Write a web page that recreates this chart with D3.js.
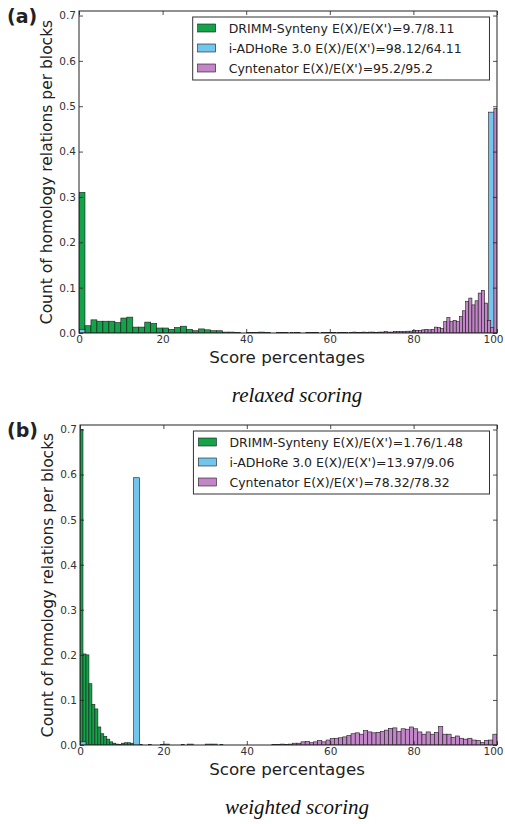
<!DOCTYPE html>
<html>
<head>
<meta charset="utf-8">
<script src="https://cdn.jsdelivr.net/npm/d3@7"></script>
<style>
  html, body { margin: 0; padding: 0; background: #fff; }
  svg { display: block; }
  text { font-family: "DejaVu Sans", sans-serif; }
</style>
</head>
<body>
<svg id="chart" width="505" height="824"></svg>
<script>
// ---------------- data ----------------
const seriesNames = ["DRIMM-Synteny", "i-ADHoRe 3.0", "Cyntenator"];
const xTicks = [0, 20, 40, 60, 80, 100];
const yTicks = [0.0, 0.1, 0.2, 0.3, 0.4, 0.5, 0.6, 0.7];
const yMax = 0.71;
const xLabel = "Score percentages";
const yLabel = "Count of homology relations per blocks";
const panelTags = ["(a)", "(b)"];
const panelCaptions = ["relaxed scoring", "weighted scoring"];
const relaxedLegend = ["DRIMM-Synteny E(X)/E(X')=9.7/8.11", "i-ADHoRe 3.0 E(X)/E(X')=98.12/64.11", "Cyntenator E(X)/E(X')=95.2/95.2"];
const weightedLegend = ["DRIMM-Synteny E(X)/E(X')=1.76/1.48", "i-ADHoRe 3.0 E(X)/E(X')=13.97/9.06", "Cyntenator E(X)/E(X')=78.32/78.32"];

// histogram bins: first bin edge, bin width (score units), bar heights
const relaxedDrimmStart = 0, relaxedDrimmWidth = 1.43;
const relaxedDrimm = [
  0.31, 0.016, 0.029, 0.026, 0.026, 0.026, 0.023, 0.033, 0.035, 0.013,
  0.013, 0.024, 0.021, 0.011, 0.011, 0.008, 0.012, 0.015, 0.008, 0.005,
  0.009, 0.007, 0.005, 0.005, 0.002, 0.002, 0.001, 0, 0.001, 0.001,
  0.002, 0.001, 0, 0.001, 0.001, 0, 0.001, 0, 0.001, 0.001,
  0, 0.001, 0.001, 0, 0.001, 0, 0.001, 0.001, 0, 0.001,
  0.001, 0, 0.001, 0.001, 0, 0.001, 0, 0.001, 0.002, 0.001,
  0.001, 0, 0.001, 0.001, 0, 0, 0.001, 0, 0, 0
];
const relaxedAdhoreStart = 0, relaxedAdhoreWidth = 1.4;
const relaxedAdhore = [
  0.008, 0, 0, 0, 0, 0, 0, 0, 0, 0,
  0, 0, 0, 0, 0, 0, 0, 0, 0, 0,
  0, 0, 0, 0, 0, 0, 0, 0, 0, 0,
  0, 0, 0, 0, 0, 0, 0, 0, 0, 0,
  0, 0, 0, 0, 0, 0, 0, 0, 0, 0,
  0, 0, 0, 0, 0, 0, 0, 0, 0, 0,
  0, 0, 0, 0, 0, 0, 0, 0, 0, 0,
  0.487
];
const relaxedCyntStart = 47.5, relaxedCyntWidth = 0.75;
const relaxedCynt = [
  0, 0.001, 0, 0, 0.001, 0, 0.001, 0, 0, 0.001,
  0, 0.001, 0.001, 0, 0.001, 0, 0.001, 0.001, 0, 0.001,
  0.001, 0.001, 0, 0.001, 0.002, 0.001, 0.001, 0.002, 0.001, 0.002,
  0.002, 0.001, 0.002, 0.002, 0.003, 0.002, 0.002, 0.003, 0.003, 0.003,
  0.003, 0.004, 0.004, 0.006, 0.006, 0.006, 0.007, 0.008, 0.007, 0.008,
  0.013, 0.012, 0.010, 0.025, 0.034, 0.025, 0.028, 0.025, 0.036, 0.049,
  0.070, 0.077, 0.062, 0.071, 0.088, 0.094, 0.066, 0.028, 0.012, 0.495
];

const weightedDrimmStart = 0, weightedDrimmWidth = 0.714;
const weightedDrimm = [
  0.70, 0.202, 0.200, 0.136, 0.090, 0.080, 0.040, 0.025, 0.019, 0.013,
  0.007, 0.004, 0.002, 0.001, 0.004, 0.005, 0.005, 0.004, 0, 0,
  0.001, 0, 0, 0.001, 0, 0, 0, 0.001, 0, 0,
  0, 0, 0, 0, 0.001, 0, 0, 0, 0, 0,
  0, 0, 0, 0, 0, 0, 0, 0.001, 0, 0
];
const weightedAdhoreStart = 0, weightedAdhoreWidth = 1.43;
const weightedAdhore = [
  0.007, 0, 0, 0, 0, 0, 0, 0, 0, 0.593,
  0, 0, 0, 0, 0.002, 0, 0, 0, 0.002, 0,
  0, 0.002, 0.002, 0, 0, 0, 0, 0, 0, 0
];
const weightedCyntStart = 30, weightedCyntWidth = 1.0;
const weightedCynt = [
  0, 0, 0, 0, 0, 0, 0, 0, 0, 0,
  0, 0, 0, 0, 0, 0, 0.001, 0.001, 0.002, 0.001,
  0.002, 0.004, 0.004, 0.007, 0.008, 0.005, 0.007, 0.010, 0.007, 0.011,
  0.014, 0.015, 0.016, 0.018, 0.021, 0.025, 0.027, 0.024, 0.032, 0.029,
  0.027, 0.028, 0.030, 0.033, 0.037, 0.038, 0.030, 0.036, 0.035, 0.040,
  0.036, 0.029, 0.024, 0.029, 0.024, 0.028, 0.041, 0.024, 0.024, 0.017,
  0.020, 0.015, 0.013, 0.015, 0.011, 0.010, 0.006, 0.010, 0.011, 0.024
];

const seriesColors = ["#14a34b", "#72c5ec", "#c285c8"];

// ---------------- drawing ----------------
const svg = d3.select("#chart");

function toBins(heights, start, width) {
  return heights.map((h, i) => ({ x0: start + i * width, x1: start + (i + 1) * width, h }));
}

function drawPanel(opts) {
  const { left, right, top, bottom, series, legend, tag, caption, idx } = opts;
  const x = d3.scaleLinear().domain([0, 100]).range([left, right]);
  const y = d3.scaleLinear().domain([0, yMax]).range([bottom, top]);
  const g = svg.append("g");

  const clipId = "clip" + idx;
  svg.append("defs").append("clipPath").attr("id", clipId)
    .append("rect").attr("x", left).attr("y", top)
    .attr("width", right - left).attr("height", bottom - top);

  const bars = g.append("g").attr("clip-path", `url(#${clipId})`);
  series.forEach((s, si) => {
    bars.append("g").selectAll("rect")
      .data(toBins(s.heights, s.start, s.width).filter(d => d.h > 0))
      .join("rect")
      .attr("x", d => x(d.x0))
      .attr("y", d => y(d.h))
      .attr("width", d => x(d.x1) - x(d.x0))
      .attr("height", d => y(0) - y(d.h))
      .attr("fill", seriesColors[si])
      .attr("stroke", "#1a1a1a")
      .attr("stroke-width", 0.6);
  });

  // axes (matplotlib classic: inward ticks on all sides)
  const tickLen = 4;
  const axB = d3.axisBottom(x).tickValues(xTicks).tickFormat(d3.format("d")).tickSizeInner(-tickLen).tickSizeOuter(0).tickPadding(3);
  const axT = d3.axisTop(x).tickValues(xTicks).tickFormat("").tickSizeInner(-tickLen).tickSizeOuter(0);
  const axL = d3.axisLeft(y).tickValues(yTicks).tickFormat(d3.format(".1f")).tickSizeInner(-tickLen).tickSizeOuter(0).tickPadding(3);
  const axR = d3.axisRight(y).tickValues(yTicks).tickFormat("").tickSizeInner(-tickLen).tickSizeOuter(0);

  const gb = g.append("g").attr("transform", `translate(0,${bottom})`).call(axB);
  const gt = g.append("g").attr("transform", `translate(0,${top})`).call(axT);
  const gl = g.append("g").attr("transform", `translate(${left},0)`).call(axL);
  const gr = g.append("g").attr("transform", `translate(${right},0)`).call(axR);
  [gb, gt, gl, gr].forEach(a => {
    a.select(".domain").remove();
    a.selectAll("line").attr("stroke", "#222").attr("stroke-width", 0.8);
    a.selectAll("text").attr("font-family", "DejaVu Sans").attr("font-size", 10.5).attr("fill", "#333");
  });
  gb.selectAll("text").attr("dy", "0.75em").attr("y", 2);
  // keep the last x tick label inside the page edge
  gb.selectAll(".tick").filter(d => d === xTicks[xTicks.length - 1])
    .select("text").attr("text-anchor", "end").attr("x", 503 - right);

  g.append("rect").attr("x", left).attr("y", top)
    .attr("width", right - left).attr("height", bottom - top)
    .attr("fill", "none").attr("stroke", "#222").attr("stroke-width", 1);

  // legend
  const lg = g.append("g");
  const lx = x(27.2), ly = top + 6, lw = x(98.2) - x(27.2), lh = 63;
  lg.append("rect").attr("x", lx).attr("y", ly).attr("width", lw).attr("height", lh)
    .attr("fill", "#fff").attr("stroke", "#333").attr("stroke-width", 1);
  legend.forEach((t, i) => {
    const cy = ly + 11 + i * 20;
    lg.append("rect").attr("x", lx + 5).attr("y", cy - 4).attr("width", 18).attr("height", 8)
      .attr("fill", seriesColors[i]).attr("stroke", "#1a1a1a").attr("stroke-width", 0.6);
    lg.append("text").attr("x", lx + 36).attr("y", cy).attr("dy", "0.36em")
      .attr("font-size", 12.5).attr("fill", "#222").text(t);
  });

  // labels
  g.append("text").attr("x", 287).attr("y", bottom + 30)
    .attr("text-anchor", "middle").attr("font-size", 16.7).attr("fill", "#222").text(xLabel);
  g.append("text").attr("transform", `translate(${left - 27},${(top + bottom) / 2}) rotate(-90)`)
    .attr("text-anchor", "middle").attr("font-size", 15.5).attr("fill", "#222").text(yLabel);
  g.append("text").attr("x", 7).attr("y", top + 12)
    .attr("font-size", 19).attr("font-weight", "bold").attr("fill", "#222").text(tag);
  g.append("text").attr("x", 297).attr("y", bottom + 69)
    .attr("text-anchor", "middle")
    .style("font-family", "'Liberation Serif', serif")
    .attr("font-style", "italic").attr("font-size", 21).attr("fill", "#111").text(caption);
}

drawPanel({
  idx: 0, left: 79, right: 497, top: 11, bottom: 333,
  series: [
    { heights: relaxedDrimm, start: relaxedDrimmStart, width: relaxedDrimmWidth },
    { heights: relaxedAdhore, start: relaxedAdhoreStart, width: relaxedAdhoreWidth },
    { heights: relaxedCynt, start: relaxedCyntStart, width: relaxedCyntWidth }
  ],
  legend: relaxedLegend, tag: panelTags[0], caption: panelCaptions[0]
});
drawPanel({
  idx: 1, left: 80, right: 497, top: 425, bottom: 745,
  series: [
    { heights: weightedDrimm, start: weightedDrimmStart, width: weightedDrimmWidth },
    { heights: weightedAdhore, start: weightedAdhoreStart, width: weightedAdhoreWidth },
    { heights: weightedCynt, start: weightedCyntStart, width: weightedCyntWidth }
  ],
  legend: weightedLegend, tag: panelTags[1], caption: panelCaptions[1]
});
</script>
</body>
</html>
